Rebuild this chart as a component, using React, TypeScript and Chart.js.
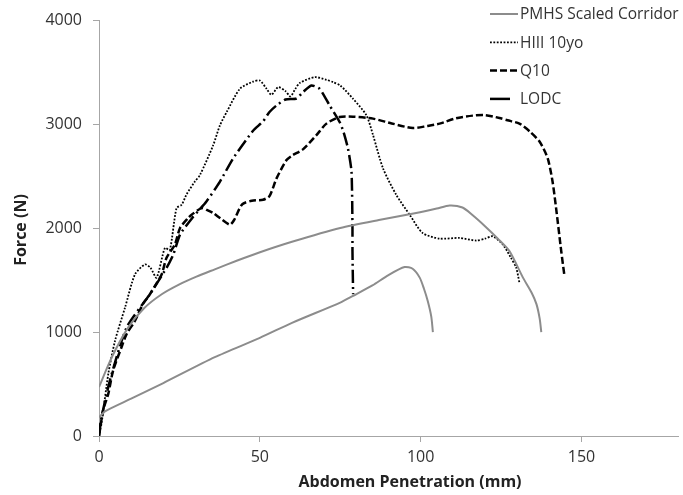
import { useEffect, useRef } from "react";
import { Chart, registerables } from "chart.js";

Chart.register(...registerables);

const FONT = "'Open Sans', sans-serif";

// x tick labels and y tick labels
const xTickValues = [0, 50, 100, 150];
const yTickValues = [0, 1000, 2000, 3000, 4000];

// PMHS scaled corridor (upper bound)
const pmhsUpperX = [0, 4, 9.1, 14, 19.5, 25, 30.3, 36, 43, 49.6, 60, 75, 87, 98.6, 105, 109, 113, 116, 120, 124, 127.6, 131.8, 134.5, 136, 137, 137.5];
const pmhsUpperY = [472, 760, 1046, 1230, 1365, 1460, 1535, 1605, 1690, 1765, 1870, 2003, 2080, 2147, 2190, 2220, 2200, 2130, 2020, 1900, 1780, 1525, 1380, 1270, 1130, 1000];

// PMHS scaled corridor (lower bound)
const pmhsLowerX = [0, 2, 10, 20, 36, 50, 60, 75, 79, 85, 90, 95, 97.5, 99.7, 101, 102.2, 103.3, 103.8];
const pmhsLowerY = [180, 240, 360, 510, 759, 945, 1090, 1285, 1350, 1450, 1550, 1627, 1610, 1525, 1420, 1300, 1150, 1000];

// HIII 10yo
const hiiiX = [0, 0.8, 2.9, 5, 8.1, 11.2, 14.3, 16, 17.9, 20.5, 22, 24.1, 25.7, 27.2, 29.8, 31.4, 35.5, 37.6, 39.7, 43.8, 47.9, 50, 52.1, 53.6, 55.7, 58, 59.5, 61, 62.4, 67.1, 70.7, 72.8, 75, 79, 83.1, 85.2, 88.3, 92.4, 96.6, 100.6, 105.9, 112, 117.3, 120, 122.4, 125.5, 128, 129.7, 130.7];
const hiiiY = [0, 124, 600, 919, 1237, 1557, 1652, 1620, 1525, 1811, 1790, 2194, 2227, 2325, 2450, 2514, 2800, 2992, 3120, 3343, 3413, 3423, 3343, 3286, 3359, 3320, 3270, 3340, 3400, 3455, 3430, 3407, 3375, 3247, 3090, 2897, 2577, 2323, 2130, 1955, 1901, 1907, 1882, 1900, 1923, 1845, 1720, 1620, 1476];

// Q10
const q10X = [0, 1.3, 2.9, 4.4, 7, 8.6, 11.2, 13.8, 15.3, 17.9, 19.5, 21, 23.6, 25.2, 27.7, 28.8, 31.9, 34, 35.5, 37.6, 40.7, 42, 44.5, 47.5, 51, 53, 55.2, 58.3, 60, 63.4, 67.6, 70.7, 74.8, 79, 85.2, 91, 97.6, 102, 105.9, 111, 116.2, 120, 124.5, 127, 130.7, 134, 137, 139.5, 141, 142.1, 143.7, 144.7];
const q10Y = [0, 249, 408, 632, 855, 983, 1110, 1280, 1340, 1470, 1557, 1716, 1844, 2003, 2099, 2131, 2194, 2170, 2147, 2099, 2035, 2080, 2230, 2265, 2275, 2310, 2481, 2657, 2700, 2760, 2897, 3008, 3072, 3075, 3056, 3010, 2965, 2985, 3008, 3060, 3085, 3090, 3062, 3040, 3008, 2930, 2833, 2673, 2450, 2194, 1780, 1541];

// LODC
const lodcX = [0, 0.6, 3.4, 8.6, 15.8, 21, 23.1, 25.2, 29, 33.4, 37.6, 41.7, 47.9, 51, 53, 55.2, 58, 61.4, 63.4, 66, 68.6, 71.7, 74.8, 76, 77.4, 78.5, 78.8, 78.8, 79];
const lodcY = [0, 150, 536, 1046, 1365, 1620, 1748, 1940, 2100, 2258, 2450, 2673, 2940, 3030, 3120, 3183, 3240, 3250, 3311, 3375, 3343, 3183, 3024, 2930, 2768, 2545, 2003, 1780, 1365];

const seriesNames = ["PMHS Scaled Corridor", "HIII 10yo", "Q10", "LODC"];

const zip = (xs: number[], ys: number[]) => xs.map((x, i) => ({ x, y: ys[i] }));

export default function App() {
  const ref = useRef<HTMLCanvasElement>(null);

  useEffect(() => {
    document.body.style.margin = "0";
    const gray = "#8c8c8c";
    const axisColor = "#a6a6a6";
    const textColor = "#333333";

    const legendItems = [
      { label: seriesNames[0], color: gray, width: 2, dash: [] as number[] },
      { label: seriesNames[1], color: "#000", width: 1.8, dash: [1.8, 1.6] },
      { label: seriesNames[2], color: "#000", width: 2.5, dash: [7, 3] },
      { label: seriesNames[3], color: "#000", width: 2.5, dash: [20, 100] },
    ];

    const textPlugin = {
      id: "customText",
      afterDraw(chart: any) {
        const ctx = chart.ctx as CanvasRenderingContext2D;
        ctx.save();
        // legend
        legendItems.forEach((it, i) => {
          const ly = 14 + i * 28.3;
          ctx.beginPath();
          ctx.strokeStyle = it.color;
          ctx.lineWidth = it.width;
          ctx.setLineDash(it.dash);
          ctx.moveTo(490, ly);
          ctx.lineTo(518, ly);
          ctx.stroke();
          ctx.setLineDash([]);
          ctx.fillStyle = textColor;
          ctx.font = `15.5px ${FONT}`;
          ctx.textAlign = "left";
          ctx.textBaseline = "middle";
          ctx.fillText(it.label, 520, ly + 1);
        });
        // x title
        ctx.font = `bold 16px ${FONT}`;
        ctx.fillStyle = "#222";
        ctx.textAlign = "center";
        ctx.textBaseline = "middle";
        ctx.fillText("Abdomen Penetration (mm)", 410, 482);
        // y title
        ctx.translate(21, 230);
        ctx.rotate(-Math.PI / 2);
        ctx.fillText("Force (N)", 0, 0);
        ctx.restore();
      },
    };

    const chart = new Chart(ref.current!, {
      type: "line",
      data: {
        datasets: [
          {
            label: seriesNames[0],
            data: zip(pmhsUpperX, pmhsUpperY),
            borderColor: gray,
            borderWidth: 2,
            pointRadius: 0,
            tension: 0.25,
            fill: false,
          },
          {
            label: seriesNames[0] + " lower",
            data: zip(pmhsLowerX, pmhsLowerY),
            borderColor: gray,
            borderWidth: 2,
            pointRadius: 0,
            tension: 0.25,
            fill: false,
          },
          {
            label: seriesNames[1],
            data: zip(hiiiX, hiiiY),
            borderColor: "#000",
            borderWidth: 1.8,
            borderDash: [1.8, 1.6],
            pointRadius: 0,
            tension: 0.25,
            fill: false,
          },
          {
            label: seriesNames[2],
            data: zip(q10X, q10Y),
            borderColor: "#000",
            borderWidth: 2.5,
            borderDash: [7, 3],
            pointRadius: 0,
            tension: 0.25,
            fill: false,
          },
          {
            label: seriesNames[3],
            data: zip(lodcX, lodcY),
            borderColor: "#000",
            borderWidth: 2.5,
            borderDash: [13, 4, 2, 4],
            pointRadius: 0,
            tension: 0.2,
            fill: false,
          },
        ],
      },
      options: {
        responsive: false,
        animation: false,
        parsing: true,
        layout: { padding: { top: 20, right: 5, left: 0, bottom: 0 } },
        plugins: { legend: { display: false }, tooltip: { enabled: false } },
        scales: {
          x: {
            type: "linear",
            min: 0,
            max: 180,
            afterBuildTicks: (s: any) => {
              s.ticks = xTickValues.map((v) => ({ value: v }));
            },
            afterFit: (s: any) => {
              s.height = 59;
            },
            ticks: {
              font: { family: FONT, size: 16 },
              color: textColor,
              padding: 6,
              maxRotation: 0,
              callback: (v: any) => String(v),
            },
            grid: { drawOnChartArea: false, drawTicks: true, tickLength: 6, color: axisColor },
            border: { color: axisColor, width: 1 },
          },
          y: {
            type: "linear",
            min: 0,
            max: 4000,
            afterBuildTicks: (s: any) => {
              s.ticks = yTickValues.map((v) => ({ value: v }));
            },
            afterFit: (s: any) => {
              s.width = 99;
            },
            ticks: {
              font: { family: FONT, size: 16 },
              color: textColor,
              padding: 11,
              callback: (v: any) => String(v),
            },
            grid: { drawOnChartArea: false, drawTicks: true, tickLength: 6, color: axisColor },
            border: { color: axisColor, width: 1 },
          },
        },
      },
      plugins: [textPlugin],
    } as any);

    return () => chart.destroy();
  }, []);

  return (
    <div style={{ width: 683, height: 495 }}>
      <canvas ref={ref} width={683} height={495} style={{ display: "block" }} />
    </div>
  );
}
